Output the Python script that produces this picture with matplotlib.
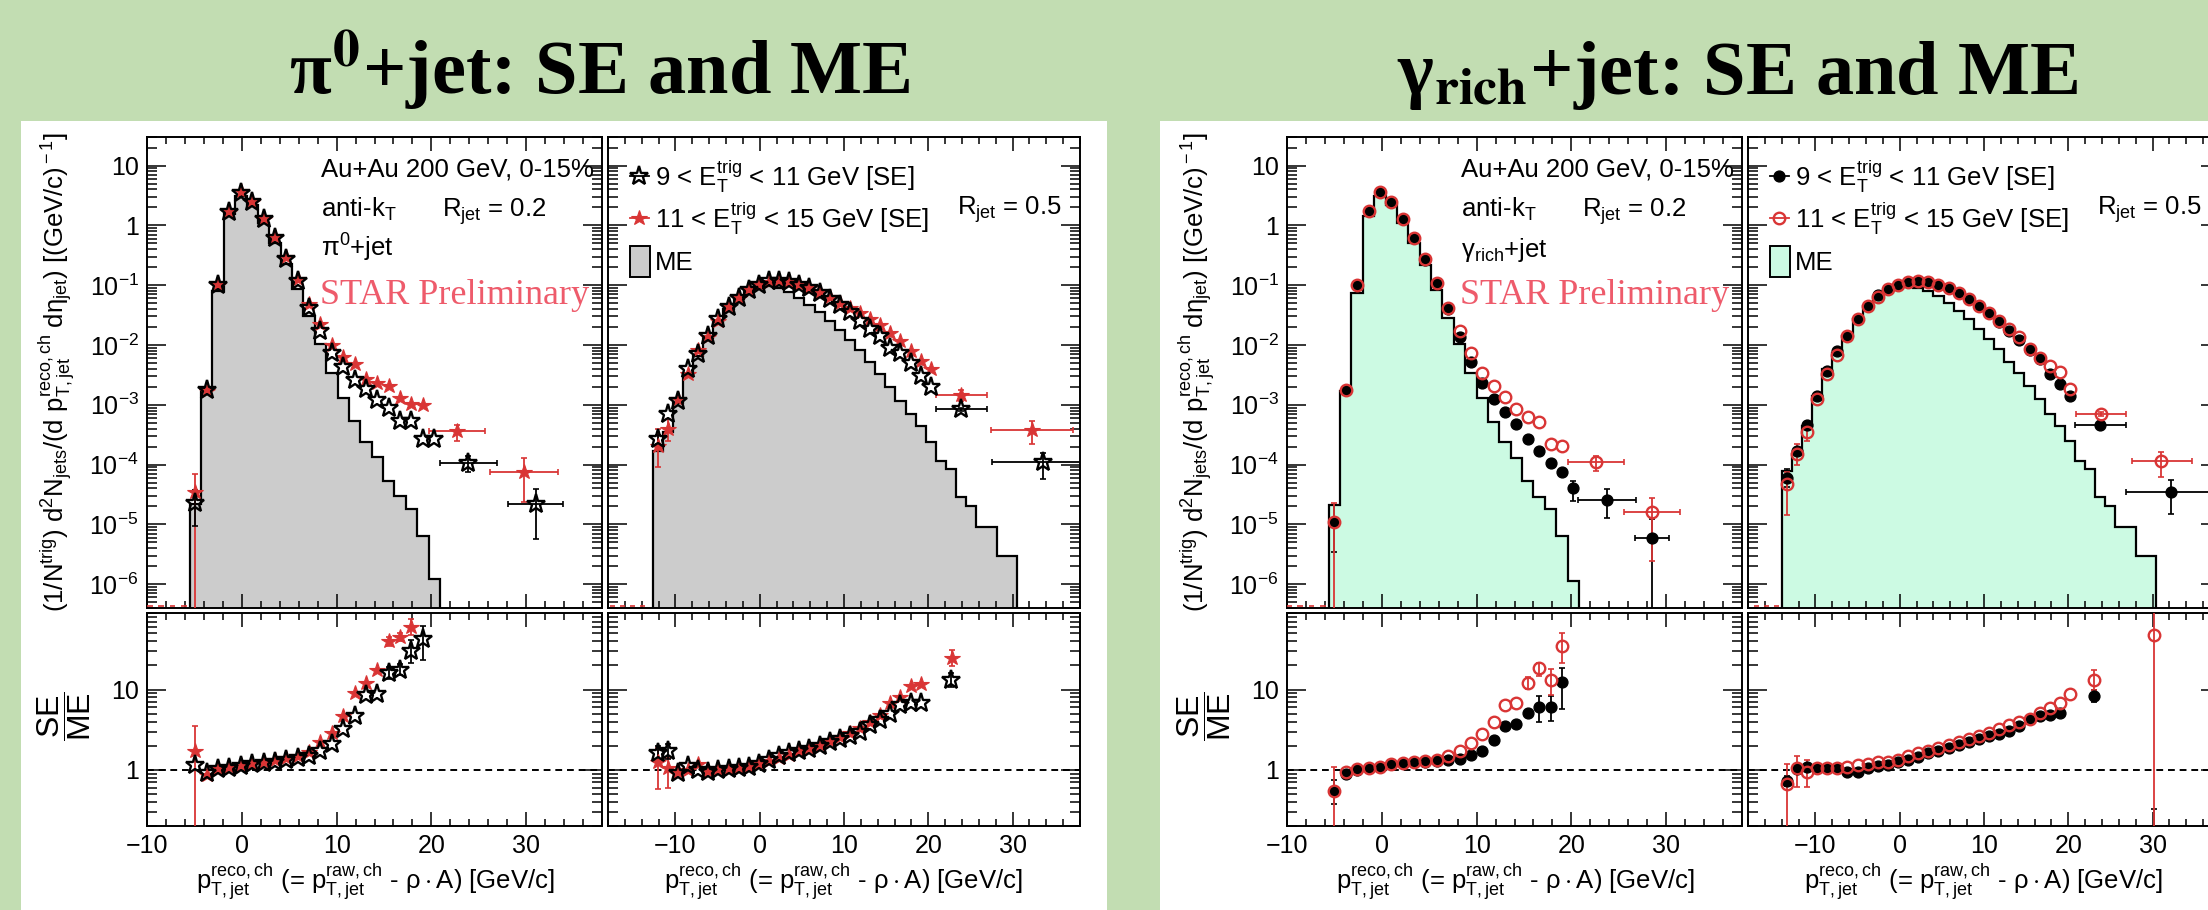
import numpy as np
import matplotlib
matplotlib.use('Agg')
import matplotlib.pyplot as plt
from matplotlib.patches import Rectangle
from matplotlib.lines import Line2D
from matplotlib.ticker import (FixedLocator, FixedFormatter, MultipleLocator,
                               NullFormatter, LogLocator)

plt.rcParams['font.family'] = ['Liberation Sans', 'DejaVu Sans']
plt.rcParams['mathtext.fontset'] = 'custom'
plt.rcParams['mathtext.rm'] = 'Liberation Sans'
plt.rcParams['mathtext.it'] = 'Liberation Sans:italic'
plt.rcParams['mathtext.bf'] = 'Liberation Sans:bold'
plt.rcParams['mathtext.sf'] = 'Liberation Sans'

# ---------------- data: pi0+jet, R = 0.2 ----------------
PI02_EDGES = [-5.5, -4.3, -3.1, -1.9, -0.7, 0.5, 1.7, 2.9, 4.1, 5.3, 6.5, 7.7, 8.9,
              10.1, 11.3, 12.5, 13.7, 14.9, 16.1, 17.3, 18.5, 19.7, 20.9]
PI02_ME = [2.19e-5, 1.94e-3, 0.0798, 1.52, 3.08, 2.23, 1.10, 0.512, 0.222, 0.0851,
           0.0305, 0.0103, 3.46e-3, 1.32e-3, 5.40e-4, 2.34e-4, 1.32e-4, 5.37e-5,
           3.02e-5, 1.81e-5, 6.49e-6, 1.23e-6]
PI02_X = [-4.9, -3.7, -2.5, -1.3, -0.1, 1.1, 2.3, 3.5, 4.7, 5.9, 7.1, 8.3, 9.5, 10.7,
          11.9, 13.1, 14.3, 15.5, 16.7, 17.9, 19.1, 20.3]
PI02_SE9 = [2.3e-5, 1.8e-3, 0.10, 1.7, 3.5, 2.5, 1.3, 0.62, 0.27, 0.118, 0.042, 0.017,
            7.4e-3, 4.2e-3, 2.6e-3, 1.86e-3, 1.2e-3, 8.9e-4, 5.3e-4, 5.3e-4, 2.7e-4, 2.7e-4]
PI02_SE11 = [3.5e-5, 1.7e-3, 0.10, 1.7, 3.7, 2.5, 1.3, 0.65, 0.29, 0.125, 0.049, 0.022,
             0.010, 6.2e-3, 4.8e-3, 2.7e-3, 2.3e-3, 2.1e-3, 1.3e-3, 1.02e-3, 1.0e-3]
PI02_ERR9 = ([0], [1.4e-5], [1.36e-5])
PI02_ERR11 = ([0], [3.5e-5], [3.49e-5])
PI02_W9 = dict(x=[23.9, 31.0], xlo=[3.0, 2.9], xhi=[3.0, 2.9], y=[1.06e-4, 2.2e-5],
               up=[3.4e-5, 1.7e-5], dn=[3.1e-5, 1.64e-5])
PI02_W11 = dict(x=[22.7, 29.8], xlo=[3.0, 3.6], xhi=[3.0, 3.6], y=[3.7e-4, 7.6e-5],
                up=[0.9e-4, 5.4e-5], dn=[1.2e-4, 5.2e-5])
PI02_EMPTY = [-9.7, -8.5, -7.3, -6.1]
PI02_R9 = [1.155, 0.926, 1.02, 1.07, 1.13, 1.18, 1.235, 1.27, 1.33, 1.40, 1.47, 1.70,
           2.09, 3.26, 4.73, 8.66, 8.83, 16.2, 17.8, 30.6, 42.2]
PI02_R11 = [1.70, 0.87, 1.04, 1.08, 1.14, 1.20, 1.24, 1.32, 1.39, 1.51, 1.68, 2.20,
            2.87, 4.64, 9.1, 12.1, 17.8, 39.8, 45.5, 60.1]
PI02_RERR9 = ([17, 18, 19, 20], [3, 3, 11, 20], [2.5, 2.5, 9, 19])
PI02_RERR11 = ([0, 17, 18, 19], [1.8, 5, 5, 15], [1.69, 5, 5, 12])

# ---------------- data: pi0+jet, R = 0.5 ----------------
PI05_EDGES = [-12.7, -11.5, -10.3, -9.1, -7.9, -6.7, -5.5, -4.3, -3.1, -1.9, -0.7, 0.5,
              1.7, 2.9, 4.1, 5.3, 6.5, 7.7, 8.9, 10.1, 11.3, 12.5, 13.7, 14.9, 16.1,
              17.3, 18.5, 19.7, 20.9, 22.1, 23.3, 24.5, 25.7, 26.9, 28.1, 29.3, 30.5]
PI05_ME = [1.70e-4, 3.44e-4, 1.09e-3, 3.24e-3, 6.56e-3, 0.0133, 0.0243, 0.0395, 0.0594,
           0.0768, 0.0907, 0.0968, 0.0907, 0.0768, 0.0618, 0.0466, 0.0356, 0.0252,
           0.0176, 0.0121, 8.26e-3, 5.21e-3, 3.24e-3, 2.02e-3, 1.16e-3, 6.97e-4,
           4.45e-4, 2.40e-4, 1.16e-4, 8.41e-5, 2.90e-5, 2.05e-5, 8.9e-6, 8.9e-6,
           3.0e-6, 3.0e-6]
PI05_X = [-12.1, -10.9, -9.7, -8.5, -7.3, -6.1, -4.9, -3.7, -2.5, -1.3, -0.1, 1.1, 2.3,
          3.5, 4.7, 5.9, 7.1, 8.3, 9.5, 10.7, 11.9, 13.1, 14.3, 15.5, 16.7, 17.9, 19.1, 20.3]
PI05_SE9 = [2.67e-4, 6.97e-4, 1.16e-3, 3.93e-3, 7.0e-3, 0.0142, 0.0269, 0.0432, 0.0618,
            0.0819, 0.1005, 0.117, 0.117, 0.113, 0.1005, 0.0885, 0.0730, 0.0579, 0.0466,
            0.0360, 0.0252, 0.0183, 0.0142, 9.04e-3, 7.46e-3, 4.95e-3, 2.97e-3, 2.02e-3]
PI05_SE11 = [2.06e-4, 3.92e-4, 1.24e-3, 3.24e-3, 8.26e-3, 0.0138, 0.0252, 0.0449, 0.0618,
             0.0819, 0.103, 0.114, 0.117, 0.114, 0.103, 0.0907, 0.0768, 0.0634, 0.0509,
             0.0421, 0.0338, 0.0269, 0.0216, 0.0157, 0.0117, 7.94e-3, 5.41e-3, 4.03e-3]
PI05_ERR9 = ([0], [0.5e-4], [0.5e-4])
PI05_ERR11 = ([0, 1], [1.84e-4, 1.9e-4], [1.15e-4, 1.4e-4])
PI05_W9 = dict(x=[23.9, 33.6], xlo=[3.0, 6.1], xhi=[3.1, 6.1], y=[8.45e-4, 1.09e-4],
               up=[0.5e-4, 0.5e-4], dn=[0.5e-4, 0.52e-4])
PI05_W11 = dict(x=[23.9, 32.3], xlo=[3.0, 4.8], xhi=[3.1, 4.9], y=[1.45e-3, 3.82e-4],
                up=[0.32e-3, 1.6e-4], dn=[0.29e-3, 1.6e-4])
PI05_EMPTY = [-17.5, -16.3, -15.1, -13.9]
PI05_R9 = [1.6, 1.7, 0.91, 1.12, 1.0, 0.95, 1.0, 1.03, 1.05, 1.1, 1.18, 1.33, 1.47, 1.6,
           1.7, 1.8, 1.96, 2.2, 2.4, 2.66, 3.0, 3.6, 4.2, 4.9, 6.5, 6.9, 6.9]
PI05_R11 = [1.27, 1.05, 0.95, 1.0, 1.2, 0.97, 1.0, 1.02, 1.05, 1.1, 1.2, 1.3, 1.42, 1.55,
            1.7, 1.85, 2.05, 2.3, 2.6, 2.9, 3.3, 3.9, 4.8, 6.8, 8.1, 11.2, 11.9]
PI05_RERR9 = ([0, 1], [0.4, 0.4], [0.35, 0.35])
PI05_RERR11 = ([0, 1], [0.6, 0.35], [0.7, 0.45])
PI05_RW9 = dict(x=[22.7], y=[13.3], up=[3.0], dn=[2.5])
PI05_RW11 = dict(x=[22.8], y=[24.8], up=[6.5], dn=[5.0])

# ---------------- data: gamma_rich+jet, R = 0.2 ----------------
GA02_EDGES = [-5.6, -4.4, -3.2, -2.0, -0.8, 0.4, 1.6, 2.8, 4.0, 5.2, 6.4, 7.6, 8.8, 10.0,
              11.2, 12.4, 13.6, 14.8, 16.0, 17.2, 18.4, 19.6, 20.8]
GA02_ME = [2.11e-5, 1.71e-3, 0.0748, 1.43, 3.08, 2.23, 1.10, 0.512, 0.214, 0.0830,
           0.0286, 0.0103, 3.46e-3, 1.29e-3, 5.19e-4, 2.34e-4, 1.27e-4, 5.37e-5,
           2.90e-5, 1.81e-5, 6.32e-6, 1.15e-6]
GA02_X = [-5.0, -3.8, -2.6, -1.4, -0.2, 1.0, 2.2, 3.4, 4.6, 5.8, 7.0, 8.2, 9.4, 10.6,
          11.8, 13.0, 14.2, 15.4, 16.6, 17.8, 19.0, 20.2]
GA02_SE9 = [1.11e-5, 1.77e-3, 0.100, 1.73, 3.59, 2.47, 1.29, 0.612, 0.263, 0.107, 0.0405,
            0.0138, 5.27e-3, 2.29e-3, 1.24e-3, 7.62e-4, 4.74e-4, 2.67e-4, 1.70e-4,
            1.06e-4, 7.40e-5, 4.0e-5]
GA02_SE11 = [1.11e-5, 1.77e-3, 0.100, 1.73, 3.59, 2.47, 1.29, 0.612, 0.270, 0.107, 0.0421,
             0.0171, 7.26e-3, 3.46e-3, 2.07e-3, 1.37e-3, 8.66e-4, 6.29e-4, 5.06e-4,
             2.20e-4, 2.06e-4]
GA02_ERR9 = ([0, 21], [1.0e-5, 1.4e-5], [7.7e-6, 1.5e-5])
GA02_ERR11 = ([0], [1.2e-5], [1.1e-5])
GA02_W9 = dict(x=[23.8, 28.5], xlo=[3.1, 1.8], xhi=[3.0, 1.8], y=[2.55e-5, 5.85e-6],
               up=[1.35e-5, 6.3e-6], dn=[1.25e-5, 5.84e-6])
GA02_W11 = dict(x=[22.6, 28.5], xlo=[3.0, 3.0], xhi=[2.9, 3.0], y=[1.09e-4, 1.63e-5],
                up=[0.31e-4, 1.17e-5], dn=[0.31e-4, 1.39e-5])
GA02_EMPTY = [-9.8, -8.6, -7.4, -6.2]
GA02_R9 = [0.54, 0.89, 1.0, 1.05, 1.08, 1.18, 1.21, 1.25, 1.27, 1.30, 1.34, 1.38, 1.55,
           1.74, 2.33, 3.5, 3.7, 5.1, 6.0, 6.1, 12.5]
GA02_R11 = [0.54, 0.93, 1.02, 1.07, 1.10, 1.18, 1.21, 1.26, 1.30, 1.34, 1.47, 1.70, 2.17,
            2.77, 3.97, 6.5, 6.8, 12.2, 18.4, 13.1, 34.5]
GA02_RERR9 = ([0, 18, 19, 20], [0.21, 2.4, 2.3, 6], [0.16, 2.1, 2.0, 6.8])
GA02_RERR11 = ([0, 17, 18, 19, 20], [0.55, 2, 3.2, 5, 16], [0.535, 2, 3.7, 4.5, 13])

# ---------------- data: gamma_rich+jet, R = 0.5 ----------------
GA05_EDGES = [-14.0, -12.8, -11.6, -10.4, -9.2, -8.0, -6.8, -5.6, -4.4, -3.2, -2.0, -0.8,
              0.4, 1.6, 2.8, 4.0, 5.2, 6.4, 7.6, 8.8, 10.0, 11.2, 12.4, 13.6, 14.8, 16.0,
              17.2, 18.4, 19.6, 20.8, 22.0, 23.2, 24.4, 25.6, 26.8, 28.0, 29.2, 30.4]
GA05_ME = [7.89e-5, 1.50e-4, 4.45e-4, 1.41e-3, 3.93e-3, 7.46e-3, 0.0142, 0.0269, 0.0449,
           0.0659, 0.0830, 0.0968, 0.0968, 0.0907, 0.0798, 0.0659, 0.0509, 0.0370,
           0.0269, 0.0188, 0.0125, 8.48e-3, 5.21e-3, 3.46e-3, 2.07e-3, 1.24e-3, 6.97e-4,
           4.45e-4, 2.50e-4, 1.16e-4, 8.41e-5, 2.83e-5, 2.05e-5, 8.9e-6, 8.9e-6, 3.0e-6,
           3.0e-6]
GA05_X = [-13.4, -12.2, -11.0, -9.8, -8.6, -7.4, -6.2, -5.0, -3.8, -2.6, -1.4, -0.2, 1.0,
          2.2, 3.4, 4.6, 5.8, 7.0, 8.2, 9.4, 10.6, 11.8, 13.0, 14.2, 15.4, 16.6, 17.8,
          19.0, 20.2]
GA05_SE9 = [5.87e-5, 1.70e-4, 4.56e-4, 1.41e-3, 3.68e-3, 7.94e-3, 0.0142, 0.0269, 0.0449,
            0.0676, 0.0851, 0.1005, 0.113, 0.117, 0.113, 0.102, 0.0885, 0.0730, 0.0579,
            0.0449, 0.0338, 0.0243, 0.0171, 0.0121, 8.26e-3, 5.77e-3, 3.24e-3, 2.21e-3,
            1.41e-3]
GA05_SE11 = [4.72e-5, 1.50e-4, 3.44e-4, 1.24e-3, 3.24e-3, 6.73e-3, 0.0142, 0.0269, 0.0449,
             0.0642, 0.0851, 0.1005, 0.113, 0.117, 0.113, 0.102, 0.0885, 0.0730, 0.0579,
             0.0449, 0.0338, 0.0252, 0.0183, 0.0138, 8.69e-3, 6.15e-3, 4.47e-3, 3.59e-3,
             1.82e-3]
GA05_ERR9 = ([0], [2.5e-5], [1.7e-5])
GA05_ERR11 = ([0, 1, 2], [2.7e-5, 0.7e-4, 1.0e-4], [3.3e-5, 0.5e-4, 0.94e-4])
GA05_W9 = dict(x=[23.8, 32.2], xlo=[3.0, 5.3], xhi=[3.0, 6.5], y=[4.56e-4, 3.52e-5],
               up=[0.4e-4, 2.0e-5], dn=[0.4e-4, 2.0e-5])
GA05_W11 = dict(x=[23.9, 31.0], xlo=[3.0, 3.5], xhi=[3.0, 3.7], y=[6.97e-4, 1.16e-4],
                up=[0.6e-4, 0.49e-4], dn=[0.6e-4, 0.53e-4])
GA05_EMPTY = [-17.0, -15.8, -14.6]
GA05_R9 = [0.73, 1.02, 1.1, 1.05, 1.05, 1.05, 0.95, 0.95, 1.05, 1.12, 1.14, 1.24, 1.34,
           1.45, 1.6, 1.74, 1.88, 2.03, 2.24, 2.45, 2.64, 2.77, 3.05, 3.53, 4.29, 4.73,
           4.87, 5.1]
GA05_R11 = [0.67, 1.05, 0.93, 1.05, 1.05, 1.05, 1.1, 1.16, 1.18, 1.24, 1.27, 1.33, 1.47,
            1.62, 1.74, 1.9, 2.05, 2.22, 2.42, 2.66, 2.87, 3.26, 3.58, 3.94, 4.3, 5.1,
            5.9, 6.9, 8.8]
GA05_RERR9 = ([0], [0.1], [0.1])
GA05_RERR11 = ([0, 1, 2], [0.53, 0.42, 0.4], [0.66, 0.43, 0.31])
GA05_RW9 = dict(x=[23.0, 30.2], y=[8.4, 0.1], up=[1.6, 0.23], dn=[1.4, 0.05])
GA05_RW11 = dict(x=[23.0, 30.2], y=[13.1, 47.3], up=[4.7, 1000], dn=[3.1, 47.29])

TOP_YTICKS = [1e-6, 1e-5, 1e-4, 1e-3, 1e-2, 1e-1, 1, 10]
TOP_YLABELS = ['10$^{-6}$', '10$^{-5}$', '10$^{-4}$', '10$^{-3}$', '10$^{-2}$',
               '10$^{-1}$', '1', '10']

# ---------------- style ----------------
BG = '#c2ddb2'
RED = '#d93535'
STAR_COL = '#ee5b6b'
GRAY_FILL = '#cccccc'
MINT_FILL = '#ccfae3'
TICK_FS = 18
TXT_FS = 18.5

PI_BLACK = dict(marker='*', ms=14, mfc='none', mec='black', mew=1.7)
PI_RED = dict(marker='*', ms=11.5, mfc=RED, mec=RED, mew=0.8)
GA_BLACK = dict(marker='o', ms=7.8, mfc='black', mec='black', mew=1)
GA_RED = dict(marker='o', ms=8.3, mfc='none', mec=RED, mew=1.7)

W, H = 2208, 910
fig = plt.figure(figsize=(W / 100, H / 100), dpi=100, facecolor=BG)


def fx(px):
    return px / W


def fy(py):
    return 1 - py / H


def add_ax(x0, y0, x1, y1):
    return fig.add_axes([x0 / W, 1 - y1 / H, (x1 - x0) / W, (y1 - y0) / H])


def common_ticks(ax):
    ax.xaxis.set_major_locator(MultipleLocator(10))
    ax.xaxis.set_minor_locator(MultipleLocator(2))
    ax.yaxis.set_minor_locator(LogLocator(base=10, subs=np.arange(2, 10), numticks=40))
    ax.yaxis.set_minor_formatter(NullFormatter())
    ax.tick_params(which='both', direction='in', top=True, right=True, width=1.1,
                   labelsize=TICK_FS, pad=6)
    ax.tick_params(axis='x', which='major', length=10)
    ax.tick_params(axis='x', which='minor', length=5)
    ax.tick_params(axis='y', which='major', length=14)
    ax.tick_params(axis='y', which='minor', length=7)
    for s in ax.spines.values():
        s.set_linewidth(1.4)


def style_top(ax, xlim, show_y):
    ax.set_yscale('log')
    ax.set_xlim(*xlim)
    ax.set_ylim(4e-7, 30)
    ax.yaxis.set_major_locator(FixedLocator(TOP_YTICKS))
    ax.yaxis.set_major_formatter(FixedFormatter(TOP_YLABELS))
    common_ticks(ax)
    ax.tick_params(labelbottom=False, labelleft=show_y)


def style_ratio(ax, xlim, show_y):
    ax.set_yscale('log')
    ax.set_xlim(*xlim)
    ax.set_ylim(0.2, 90)
    ax.yaxis.set_major_locator(FixedLocator([1, 10]))
    ax.yaxis.set_major_formatter(FixedFormatter(['1', '10']))
    common_ticks(ax)
    ax.tick_params(labelleft=show_y)
    ax.axhline(1, color='black', lw=1.4, ls=(0, (3.5, 2.5)), zorder=1)


def plot_series(ax, x, y, style, err, color):
    xs = x[:len(y)]
    idx, up, dn = err
    if idx:
        ax.errorbar([xs[i] for i in idx], [y[i] for i in idx], yerr=[dn, up], fmt='none',
                    ecolor=color, elinewidth=1.3, capsize=2.5, capthick=1.2, zorder=3)
    ax.plot(xs, y, ls='none', zorder=4, **style)


def plot_wide(ax, w, style, color):
    xerr = [w['xlo'], w['xhi']] if 'xlo' in w else None
    ax.errorbar(w['x'], w['y'], xerr=xerr, yerr=[w['dn'], w['up']], fmt='none',
                ecolor=color, elinewidth=1.3, capsize=2.5, capthick=1.2, zorder=3)
    ax.plot(w['x'], w['y'], ls='none', zorder=4, **style)


def draw_hist(ax, edges, values, fill):
    ax.stairs(values, edges, baseline=1e-12, fill=True, color=fill, zorder=1)
    ax.stairs(values, edges, baseline=1e-12, color='black', lw=1.6, zorder=2)


def draw_group(dx, fill, sty9, sty11, red_first, p02, p05, r02, r05, tag):
    a_tl = add_ax(147 + dx, 137, 602 + dx, 608)
    a_tr = add_ax(608 + dx, 137, 1080 + dx, 608)
    a_bl = add_ax(147 + dx, 613, 602 + dx, 826)
    a_br = add_ax(608 + dx, 613, 1080 + dx, 826)

    for ax, p, xlim in ((a_tl, p02, (-10, 38)), (a_tr, p05, (-18, 38))):
        draw_hist(ax, p['edges'], p['me'], fill)
        ax.errorbar(p['empty'], [4.3e-7] * len(p['empty']), xerr=0.3, fmt='none',
                    ecolor=RED, elinewidth=1.2, zorder=3)
        series = [(p['se11'], sty11, p['err11'], p['w11'], RED),
                  (p['se9'], sty9, p['err9'], p['w9'], 'black')]
        if not red_first:
            series = series[::-1]
        for y, sty, err, w, col in series:
            plot_series(ax, p['x'], y, sty, err, col)
            plot_wide(ax, w, sty, col)
        style_top(ax, xlim, ax is a_tl)

    for ax, r, xlim in ((a_bl, r02, (-10, 38)), (a_br, r05, (-18, 38))):
        series = [(r['r11'], sty11, r['err11'], r.get('w11'), RED),
                  (r['r9'], sty9, r['err9'], r.get('w9'), 'black')]
        if not red_first:
            series = series[::-1]
        for y, sty, err, w, col in series:
            plot_series(ax, r['x'], y, sty, err, col)
            if w is not None:
                plot_wide(ax, w, sty, col)
        style_ratio(ax, xlim, ax is a_bl)

    # axis titles
    fig.text(fx(57 + dx), fy(372),
             r'(1/N$^{\rm trig}$) d$^{\rm 2}$N$_{\rm jets}$/(d p$_{\rm T,jet}^{\rm reco,ch}$ '
             r'd${\rm \eta}_{\rm jet}$) [(GeV/c)$^{\rm -1}$]',
             rotation=90, ha='center', va='center', fontsize=TXT_FS)
    fig.text(fx(64 + dx), fy(716), r'$\dfrac{\rm SE}{\rm ME}$', rotation=90,
             ha='center', va='center', fontsize=23)
    xlab = (r'p$_{\rm T,jet}^{\rm reco,ch}$ (= p$_{\rm T,jet}^{\rm raw,ch}$ - '
            r'${\rm \rho}\cdot$A) [GeV/c]')
    fig.text(fx(375 + dx), fy(882), xlab, ha='center', va='center', fontsize=TXT_FS)
    fig.text(fx(843 + dx), fy(882), xlab, ha='center', va='center', fontsize=TXT_FS)

    # annotations
    t = fig.text(fx(321 + dx), fy(177), 'Au+Au 200 GeV, 0-15%', fontsize=TXT_FS,
                 va='baseline')
    t.set_clip_box(a_tl.bbox)
    t.set_clip_on(True)
    fig.text(fx(321 + dx), fy(217), r'anti-k$_{\rm T}$', fontsize=TXT_FS, va='baseline')
    fig.text(fx(442 + dx), fy(217), r'R$_{\rm jet}$ = 0.2', fontsize=TXT_FS, va='baseline')
    fig.text(fx(321 + dx), fy(257), tag, fontsize=TXT_FS, va='baseline')
    fig.text(fx(320 + dx), fy(304), 'STAR Preliminary', family='Liberation Serif',
             fontsize=26, color=STAR_COL, va='baseline')
    fig.text(fx(957 + dx), fy(215), r'R$_{\rm jet}$ = 0.5', fontsize=TXT_FS, va='baseline')

    # legend
    for yy, sty, col, lab in ((176, sty9, 'black', r'9 < E$_{\rm T}^{\rm trig}$ < 11 GeV [SE]'),
                              (218, sty11, RED, r'11 < E$_{\rm T}^{\rm trig}$ < 15 GeV [SE]')):
        fig.add_artist(Line2D([fx(630 + dx), fx(649 + dx)], [fy(yy), fy(yy)], color=col,
                              lw=1.3, transform=fig.transFigure))
        fig.add_artist(Line2D([fx(639 + dx)], [fy(yy)], ls='none',
                              transform=fig.transFigure, **sty))
        fig.text(fx(655 + dx), fy(yy + 10), lab, fontsize=TXT_FS, va='baseline')
    fig.add_artist(Rectangle((fx(630 + dx), fy(277)), fx(20), 31 / H, facecolor=fill,
                             edgecolor='black', lw=1.4, transform=fig.transFigure))
    fig.text(fx(655 + dx), fy(270), 'ME', fontsize=TXT_FS, va='baseline')


# white slide panels
fig.add_artist(Rectangle((fx(21), 0), fx(1107) - fx(21), fy(121), facecolor='white',
                         edgecolor='none', transform=fig.transFigure, zorder=-10))
fig.add_artist(Rectangle((fx(1160), 0), fx(2208) - fx(1160), fy(121), facecolor='white',
                         edgecolor='none', transform=fig.transFigure, zorder=-10))

# slide titles
fig.text(fx(600), fy(94), r'π$^{\mathbf{0}}$+jet: SE and ME', family='Liberation Serif',
         math_fontfamily='stix', fontweight='bold', fontsize=55, ha='center', va='baseline')
fig.text(fx(1738), fy(94), r'γ$_{\mathbf{rich}}$+jet: SE and ME', family='Liberation Serif',
         math_fontfamily='stix', fontweight='bold', fontsize=55, ha='center', va='baseline')

draw_group(0, GRAY_FILL, PI_BLACK, PI_RED, True,
           dict(edges=PI02_EDGES, me=PI02_ME, x=PI02_X, se9=PI02_SE9, se11=PI02_SE11,
                err9=PI02_ERR9, err11=PI02_ERR11, w9=PI02_W9, w11=PI02_W11, empty=PI02_EMPTY),
           dict(edges=PI05_EDGES, me=PI05_ME, x=PI05_X, se9=PI05_SE9, se11=PI05_SE11,
                err9=PI05_ERR9, err11=PI05_ERR11, w9=PI05_W9, w11=PI05_W11, empty=PI05_EMPTY),
           dict(x=PI02_X, r9=PI02_R9, r11=PI02_R11, err9=PI02_RERR9, err11=PI02_RERR11),
           dict(x=PI05_X, r9=PI05_R9, r11=PI05_R11, err9=PI05_RERR9, err11=PI05_RERR11,
                w9=PI05_RW9, w11=PI05_RW11),
           r'${\rm \pi}^{\rm 0}$+jet')

draw_group(1140, MINT_FILL, GA_BLACK, GA_RED, False,
           dict(edges=GA02_EDGES, me=GA02_ME, x=GA02_X, se9=GA02_SE9, se11=GA02_SE11,
                err9=GA02_ERR9, err11=GA02_ERR11, w9=GA02_W9, w11=GA02_W11, empty=GA02_EMPTY),
           dict(edges=GA05_EDGES, me=GA05_ME, x=GA05_X, se9=GA05_SE9, se11=GA05_SE11,
                err9=GA05_ERR9, err11=GA05_ERR11, w9=GA05_W9, w11=GA05_W11, empty=GA05_EMPTY),
           dict(x=GA02_X, r9=GA02_R9, r11=GA02_R11, err9=GA02_RERR9, err11=GA02_RERR11),
           dict(x=GA05_X, r9=GA05_R9, r11=GA05_R11, err9=GA05_RERR9, err11=GA05_RERR11,
                w9=GA05_RW9, w11=GA05_RW11),
           r'${\rm \gamma}_{\rm rich}$+jet')

fig.savefig('out.png', dpi=100, facecolor=BG)
